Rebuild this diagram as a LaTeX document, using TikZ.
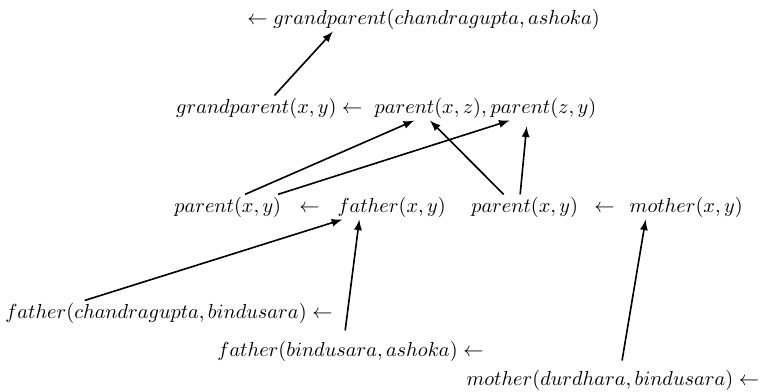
\documentclass[tikz,border=0pt]{standalone}
\usepackage{tikz}
\usepackage{amsmath}
\usetikzlibrary{arrows,positioning,calc}

\begin{document}
\begin{tikzpicture}[scale=1.02,
    term/.style={anchor=base west, inner sep=1pt},
    link/.style={->, >=latex, thick}
  ]
    \useasboundingbox (0, 0) rectangle (12.92, 6.64);

    % Goal
    \node[term] (goal) at (4.16, 6.23) {$\leftarrow grandparent(chandragupta, ashoka)$};

    % Grandparent rule
    \node[term] (gph) at (2.95, 4.72) {$grandparent(x, y) \leftarrow$};
    \node[term] (pxz) at (6.32, 4.72) {$parent(x, z),$};
    \node[term] (pzy) at (8.29, 4.72) {$parent(z, y)$};

    % Parent rules
    \node[term] (pa1) at (2.92, 3.04) {$parent(x, y)$};
    \node[term] (ar1) at (5.04, 3.04) {$\leftarrow$};
    \node[term] (fxy) at (5.69, 3.04) {$father(x, y)$};
    \node[term] (pa2) at (7.96, 3.04) {$parent(x, y)$};
    \node[term] (ar2) at (10.05, 3.04) {$\leftarrow$};
    \node[term] (mxy) at (10.65, 3.04) {$mother(x, y)$};

    % Facts
    \node[term] (fcb) at (0.05, 1.24) {$father(chandragupta, bindusara) \leftarrow$};
    \node[term] (fba) at (3.65, 0.58) {$father(bindusara, ashoka) \leftarrow$};
    \node[term] (mdb) at (7.88, 0.10) {$mother(durdhara, bindusara) \leftarrow$};

    % Links
    \draw[link] ([xshift=1.71cm]gph.north west) -- ([xshift=1.49cm]goal.south west);
    \draw[link] ([xshift=1.24cm]pa1.north west) -- ([xshift=0.71cm]pxz.south west);
    \draw[link] ([xshift=1.80cm]pa1.north west) -- ([xshift=0.36cm]pzy.south west);
    \draw[link] ([xshift=0.59cm]pa2.north west) -- ([xshift=0.98cm]pxz.south west);
    \draw[link] ([xshift=0.87cm]pa2.north west) -- ([xshift=0.65cm,yshift=-0.1cm]pzy.south west);
    \draw[link] ([xshift=1.39cm]fcb.north west) -- ([xshift=0.12cm]fxy.south west);
    \draw[link] ([xshift=2.21cm,yshift=0.15cm]fba.north west) -- ([xshift=0.41cm]fxy.south west);
    \draw[link] ([xshift=2.68cm,yshift=0.12cm]mdb.north west) -- ([xshift=0.31cm]mxy.south west);
\end{tikzpicture}
\end{document}
